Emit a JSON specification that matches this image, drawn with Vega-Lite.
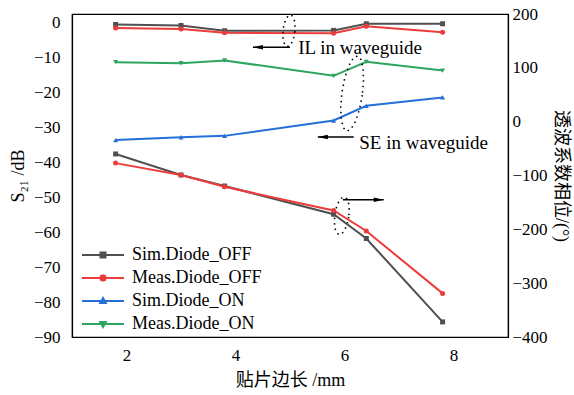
{
  "$schema": "https://vega.github.io/schema/vega-lite/v6.json",
  "width": 436,
  "height": 323,
  "autosize": "none",
  "padding": {"left": 72, "top": 14, "right": 66, "bottom": 58},
  "background": "white",
  "config": {
    "view": {"stroke": "black", "strokeWidth": 1.2},
    "font": "Times New Roman, Liberation Serif, serif",
    "axis": {
      "grid": false,
      "domainColor": "black",
      "domainWidth": 1.2,
      "tickColor": "black",
      "tickWidth": 1.2,
      "labelFont": "Times New Roman, Liberation Serif, serif",
      "labelFontSize": 17,
      "labelColor": "black",
      "labelOverlap": false,
      "titleFont": "Times New Roman, Liberation Serif, Noto Sans CJK SC, serif",
      "titleFontSize": 18,
      "titleFontWeight": "normal",
      "titleColor": "black"
    }
  },
  "datasets": {
    "mag": [
      {"x": 1.8, "v": -0.5, "s": "Sim.Diode_OFF"},
      {"x": 3.0, "v": -0.8, "s": "Sim.Diode_OFF"},
      {"x": 3.8, "v": -2.3, "s": "Sim.Diode_OFF"},
      {"x": 5.8, "v": -2.2, "s": "Sim.Diode_OFF"},
      {"x": 6.4, "v": -0.3, "s": "Sim.Diode_OFF"},
      {"x": 7.8, "v": -0.3, "s": "Sim.Diode_OFF"},
      {"x": 1.8, "v": -1.5, "s": "Meas.Diode_OFF"},
      {"x": 3.0, "v": -1.8, "s": "Meas.Diode_OFF"},
      {"x": 3.8, "v": -2.9, "s": "Meas.Diode_OFF"},
      {"x": 5.8, "v": -3.0, "s": "Meas.Diode_OFF"},
      {"x": 6.4, "v": -1.0, "s": "Meas.Diode_OFF"},
      {"x": 7.8, "v": -2.7, "s": "Meas.Diode_OFF"},
      {"x": 1.8, "v": -33.6, "s": "Sim.Diode_ON"},
      {"x": 3.0, "v": -32.8, "s": "Sim.Diode_ON"},
      {"x": 3.8, "v": -32.4, "s": "Sim.Diode_ON"},
      {"x": 5.8, "v": -28.0, "s": "Sim.Diode_ON"},
      {"x": 6.4, "v": -23.8, "s": "Sim.Diode_ON"},
      {"x": 7.8, "v": -21.4, "s": "Sim.Diode_ON"},
      {"x": 1.8, "v": -11.3, "s": "Meas.Diode_ON"},
      {"x": 3.0, "v": -11.6, "s": "Meas.Diode_ON"},
      {"x": 3.8, "v": -10.8, "s": "Meas.Diode_ON"},
      {"x": 5.8, "v": -15.2, "s": "Meas.Diode_ON"},
      {"x": 6.4, "v": -11.2, "s": "Meas.Diode_ON"},
      {"x": 7.8, "v": -13.7, "s": "Meas.Diode_ON"}
    ],
    "phase": [
      {"x": 1.8, "v": -60, "s": "Sim.Diode_OFF"},
      {"x": 3.0, "v": -99, "s": "Sim.Diode_OFF"},
      {"x": 3.8, "v": -119.5, "s": "Sim.Diode_OFF"},
      {"x": 5.8, "v": -172, "s": "Sim.Diode_OFF"},
      {"x": 6.4, "v": -217, "s": "Sim.Diode_OFF"},
      {"x": 7.8, "v": -372, "s": "Sim.Diode_OFF"},
      {"x": 1.8, "v": -77, "s": "Meas.Diode_OFF"},
      {"x": 3.0, "v": -99, "s": "Meas.Diode_OFF"},
      {"x": 3.8, "v": -121, "s": "Meas.Diode_OFF"},
      {"x": 5.8, "v": -165, "s": "Meas.Diode_OFF"},
      {"x": 6.4, "v": -203, "s": "Meas.Diode_OFF"},
      {"x": 7.8, "v": -319, "s": "Meas.Diode_OFF"}
    ],
    "arrows": [
      {"tip": 4.32, "tail": 5.0, "v": -7.0},
      {"tip": 5.51, "tail": 6.17, "v": -32.7},
      {"tip": 6.72, "tail": 5.97, "v": -50.7}
    ],
    "notes": [
      {"x": 5.15, "v": -7.2, "label": "IL in waveguide"},
      {"x": 6.27, "v": -34.4, "label": "SE in waveguide"}
    ],
    "ellipses": [
      {"name": "IL", "x": 4.98, "v": -2.3},
      {"name": "SE", "x": 6.14, "v": -20.3},
      {"name": "PH", "x": 5.95, "v": -55.3}
    ]
  },
  "layer": [
    {
      "data": {"name": "mag"},
      "mark": {"type": "line", "strokeWidth": 2},
      "encoding": {
        "x": {
          "field": "x", "type": "quantitative",
          "scale": {"domain": [1, 9], "nice": false, "zero": false},
          "axis": {
            "orient": "bottom",
            "values": [1, 2, 3, 4, 5, 6, 7, 8, 9],
            "labelExpr": "datum.value % 2 === 0 ? datum.label : ''",
            "tickSize": 0,
            "labelPadding": 10,
            "title": "贴片边长 /mm",
            "titlePadding": 8,
            "encode": {"ticks": {"update": {"y2": {"signal": "datum.value % 2 === 0 ? -6 : -3"}}}}
          }
        },
        "y": {
          "field": "v", "type": "quantitative",
          "scale": {"domain": [-90, 2.5], "nice": false, "zero": false},
          "axis": {
            "orient": "left",
            "values": [-90, -85, -80, -75, -70, -65, -60, -55, -50, -45, -40, -35, -30, -25, -20, -15, -10, -5, 0],
            "labelExpr": "datum.value % 10 === 0 ? datum.label : ''",
            "tickSize": 0,
            "labelPadding": 12,
            "title": "S₂₁ /dB",
            "titlePadding": 6,
            "encode": {"ticks": {"update": {"x2": {"signal": "datum.value % 10 === 0 ? 6 : 3"}}}}
          }
        },
        "color": {
          "field": "s", "type": "nominal",
          "scale": {
            "domain": ["Sim.Diode_OFF", "Meas.Diode_OFF", "Sim.Diode_ON", "Meas.Diode_ON"],
            "range": ["#505050", "#ec3b3b", "#2470d8", "#2ca55f"]
          },
          "legend": {
            "orient": "none",
            "legendX": 6,
            "legendY": 232,
            "title": null,
            "padding": 0,
            "symbolSize": 100,
            "symbolStrokeWidth": 2,
            "symbolOffset": 0,
            "labelOffset": 36,
            "labelFont": "Times New Roman, Liberation Serif, serif",
            "labelFontSize": 18,
            "labelColor": "black",
            "rowPadding": 5,
            "encode": {
              "symbols": {
                "update": {
                  "shape": {"signal": "datum.value === 'Sim.Diode_OFF' ? 'M-1,0H7.4M2.7,-0.5H3.7V0.5H2.7Z' : datum.value === 'Meas.Diode_OFF' ? 'M-1,0H7.4M3.75,0L3.59,0.39L3.2,0.55L2.81,0.39L2.65,0L2.81,-0.39L3.2,-0.55L3.59,-0.39Z' : datum.value === 'Sim.Diode_ON' ? 'M-1,0H7.4M3.2,-0.6L3.75,0.4L2.65,0.4Z' : 'M-1,0H7.4M3.2,0.6L3.75,-0.4L2.65,-0.4Z'"},
                  "fill": {"signal": "scale('color', datum.value)"},
                  "stroke": {"signal": "scale('color', datum.value)"},
                  "strokeWidth": {"value": 2},
                  "opacity": {"value": 1}
                }
              }
            }
          }
        }
      }
    },
    {
      "data": {"name": "mag"},
      "transform": [{"filter": "datum.s === 'Sim.Diode_OFF'"}],
      "mark": {"type": "point", "shape": "square", "filled": true, "size": 25, "opacity": 1},
      "encoding": {
        "x": {"field": "x", "type": "quantitative", "scale": {"domain": [1, 9], "nice": false, "zero": false}, "axis": null},
        "y": {"field": "v", "type": "quantitative", "scale": {"domain": [-90, 2.5], "nice": false, "zero": false}, "axis": null},
        "color": {"field": "s", "type": "nominal", "legend": null}
      }
    },
    {
      "data": {"name": "mag"},
      "transform": [{"filter": "datum.s === 'Meas.Diode_OFF'"}],
      "mark": {"type": "point", "shape": "circle", "filled": true, "size": 25, "opacity": 1},
      "encoding": {
        "x": {"field": "x", "type": "quantitative", "scale": {"domain": [1, 9], "nice": false, "zero": false}, "axis": null},
        "y": {"field": "v", "type": "quantitative", "scale": {"domain": [-90, 2.5], "nice": false, "zero": false}, "axis": null},
        "color": {"field": "s", "type": "nominal", "legend": null}
      }
    },
    {
      "data": {"name": "mag"},
      "transform": [{"filter": "datum.s === 'Sim.Diode_ON'"}],
      "mark": {"type": "point", "shape": "triangle-up", "filled": true, "size": 25, "opacity": 1},
      "encoding": {
        "x": {"field": "x", "type": "quantitative", "scale": {"domain": [1, 9], "nice": false, "zero": false}, "axis": null},
        "y": {"field": "v", "type": "quantitative", "scale": {"domain": [-90, 2.5], "nice": false, "zero": false}, "axis": null},
        "color": {"field": "s", "type": "nominal", "legend": null}
      }
    },
    {
      "data": {"name": "mag"},
      "transform": [{"filter": "datum.s === 'Meas.Diode_ON'"}],
      "mark": {"type": "point", "shape": "triangle-down", "filled": true, "size": 25, "opacity": 1},
      "encoding": {
        "x": {"field": "x", "type": "quantitative", "scale": {"domain": [1, 9], "nice": false, "zero": false}, "axis": null},
        "y": {"field": "v", "type": "quantitative", "scale": {"domain": [-90, 2.5], "nice": false, "zero": false}, "axis": null},
        "color": {"field": "s", "type": "nominal", "legend": null}
      }
    },
    {
      "data": {"name": "arrows"},
      "mark": {"type": "rule", "color": "black", "strokeWidth": 1.5},
      "encoding": {
        "x": {"field": "tip", "type": "quantitative", "scale": {"domain": [1, 9], "nice": false, "zero": false}, "axis": null},
        "x2": {"field": "tail"},
        "y": {"field": "v", "type": "quantitative", "scale": {"domain": [-90, 2.5], "nice": false, "zero": false}, "axis": null}
      }
    },
    {
      "data": {"name": "arrows"},
      "transform": [{"filter": "datum.tip < datum.tail"}],
      "mark": {"type": "point", "shape": "M0,0L2,-0.45L2,0.45Z", "size": 100, "filled": true, "color": "black", "opacity": 1},
      "encoding": {
        "x": {"field": "tip", "type": "quantitative", "scale": {"domain": [1, 9], "nice": false, "zero": false}, "axis": null},
        "y": {"field": "v", "type": "quantitative", "scale": {"domain": [-90, 2.5], "nice": false, "zero": false}, "axis": null}
      }
    },
    {
      "data": {"name": "arrows"},
      "transform": [{"filter": "datum.tip > datum.tail"}],
      "mark": {"type": "point", "shape": "M0,0L-2,-0.45L-2,0.45Z", "size": 100, "filled": true, "color": "black", "opacity": 1},
      "encoding": {
        "x": {"field": "tip", "type": "quantitative", "scale": {"domain": [1, 9], "nice": false, "zero": false}, "axis": null},
        "y": {"field": "v", "type": "quantitative", "scale": {"domain": [-90, 2.5], "nice": false, "zero": false}, "axis": null}
      }
    },
    {
      "data": {"name": "notes"},
      "mark": {"type": "text", "align": "left", "baseline": "middle", "font": "Times New Roman, Liberation Serif, serif", "fontSize": 19, "color": "black"},
      "encoding": {
        "x": {"field": "x", "type": "quantitative", "scale": {"domain": [1, 9], "nice": false, "zero": false}, "axis": null},
        "y": {"field": "v", "type": "quantitative", "scale": {"domain": [-90, 2.5], "nice": false, "zero": false}, "axis": null},
        "text": {"field": "label"}
      }
    },
    {
      "data": {"name": "ellipses"},
      "transform": [{"filter": "datum.name === 'IL'"}],
      "mark": {"type": "point", "shape": "M0.37,0L0.342,0.383L0.262,0.707L0.142,0.924L0,1L-0.142,0.924L-0.262,0.707L-0.342,0.383L-0.37,0L-0.342,-0.383L-0.262,-0.707L-0.142,-0.924L0,-1L0.142,-0.924L0.262,-0.707L0.342,-0.383Z", "size": 1024, "angle": 6, "filled": false, "color": "black", "strokeWidth": 1.6, "strokeDash": [1.5, 4], "opacity": 1},
      "encoding": {
        "x": {"field": "x", "type": "quantitative", "scale": {"domain": [1, 9], "nice": false, "zero": false}, "axis": null},
        "y": {"field": "v", "type": "quantitative", "scale": {"domain": [-90, 2.5], "nice": false, "zero": false}, "axis": null}
      }
    },
    {
      "data": {"name": "ellipses"},
      "transform": [{"filter": "datum.name === 'SE'"}],
      "mark": {"type": "point", "shape": "M0.27,0L0.249,0.383L0.191,0.707L0.103,0.924L0,1L-0.103,0.924L-0.191,0.707L-0.249,0.383L-0.27,0L-0.249,-0.383L-0.191,-0.707L-0.103,-0.924L0,-1L0.103,-0.924L0.191,-0.707L0.249,-0.383Z", "size": 5776, "angle": 8, "filled": false, "color": "black", "strokeWidth": 1.6, "strokeDash": [1.5, 4], "opacity": 1},
      "encoding": {
        "x": {"field": "x", "type": "quantitative", "scale": {"domain": [1, 9], "nice": false, "zero": false}, "axis": null},
        "y": {"field": "v", "type": "quantitative", "scale": {"domain": [-90, 2.5], "nice": false, "zero": false}, "axis": null}
      }
    },
    {
      "data": {"name": "ellipses"},
      "transform": [{"filter": "datum.name === 'PH'"}],
      "mark": {"type": "point", "shape": "M0.37,0L0.342,0.383L0.262,0.707L0.142,0.924L0,1L-0.142,0.924L-0.262,0.707L-0.342,0.383L-0.37,0L-0.342,-0.383L-0.262,-0.707L-0.142,-0.924L0,-1L0.142,-0.924L0.262,-0.707L0.342,-0.383Z", "size": 1444, "angle": 8, "filled": false, "color": "black", "strokeWidth": 1.6, "strokeDash": [1.5, 4], "opacity": 1},
      "encoding": {
        "x": {"field": "x", "type": "quantitative", "scale": {"domain": [1, 9], "nice": false, "zero": false}, "axis": null},
        "y": {"field": "v", "type": "quantitative", "scale": {"domain": [-90, 2.5], "nice": false, "zero": false}, "axis": null}
      }
    },
    {
      "data": {"name": "phase"},
      "mark": {"type": "line", "strokeWidth": 2},
      "encoding": {
        "x": {
          "field": "x", "type": "quantitative",
          "scale": {"domain": [1, 9], "nice": false, "zero": false},
          "axis": {
            "orient": "top",
            "values": [1, 2, 3, 4, 5, 6, 7, 8, 9],
            "labels": false,
            "tickSize": 0,
            "title": null,
            "encode": {"ticks": {"update": {"y2": {"signal": "datum.value % 2 === 0 ? 6 : 3"}}}}
          }
        },
        "y": {
          "field": "v", "type": "quantitative",
          "scale": {"domain": [-400, 200], "nice": false, "zero": false},
          "axis": {
            "orient": "right",
            "values": [-400, -350, -300, -250, -200, -150, -100, -50, 0, 50, 100, 150, 200],
            "labelExpr": "datum.value % 100 === 0 ? datum.label : ''",
            "tickSize": 0,
            "labelPadding": 4,
            "title": "透波系数相位/(°)",
            "titlePadding": 4,
            "encode": {"ticks": {"update": {"x2": {"signal": "datum.value % 100 === 0 ? -6 : -3"}}}}
          }
        },
        "color": {"field": "s", "type": "nominal", "legend": null}
      }
    },
    {
      "data": {"name": "phase"},
      "transform": [{"filter": "datum.s === 'Sim.Diode_OFF'"}],
      "mark": {"type": "point", "shape": "square", "filled": true, "size": 25, "opacity": 1},
      "encoding": {
        "x": {"field": "x", "type": "quantitative", "scale": {"domain": [1, 9], "nice": false, "zero": false}, "axis": null},
        "y": {"field": "v", "type": "quantitative", "scale": {"domain": [-400, 200], "nice": false, "zero": false}, "axis": null},
        "color": {"field": "s", "type": "nominal", "legend": null}
      }
    },
    {
      "data": {"name": "phase"},
      "transform": [{"filter": "datum.s === 'Meas.Diode_OFF'"}],
      "mark": {"type": "point", "shape": "circle", "filled": true, "size": 25, "opacity": 1},
      "encoding": {
        "x": {"field": "x", "type": "quantitative", "scale": {"domain": [1, 9], "nice": false, "zero": false}, "axis": null},
        "y": {"field": "v", "type": "quantitative", "scale": {"domain": [-400, 200], "nice": false, "zero": false}, "axis": null},
        "color": {"field": "s", "type": "nominal", "legend": null}
      }
    }
  ],
  "resolve": {"scale": {"y": "independent"}}
}
